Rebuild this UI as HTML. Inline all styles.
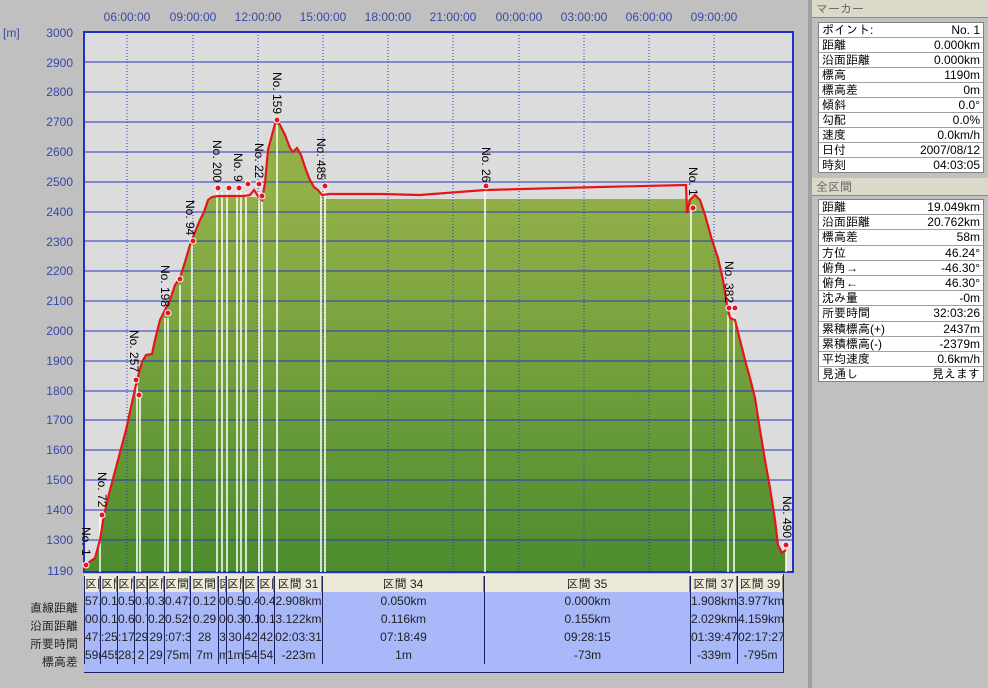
<!DOCTYPE html>
<html><head><meta charset="utf-8"><style>
body{margin:0;width:988px;height:688px;background:#c0c0c0;overflow:hidden;position:relative;font-family:"Liberation Sans","IPAGothic","Noto Sans CJK JP",sans-serif;}
.a{position:absolute}
.cell{position:absolute;overflow:hidden;white-space:nowrap;text-align:center;font-size:12px;color:#222;box-sizing:border-box;border-left:1px solid #1a2060;}
.lbl{position:absolute;left:0;width:78px;text-align:right;font-size:12px;color:#222}
.pt{position:absolute;left:818px;width:164px;border:1px solid #808080;background:#fff;font-size:12px}
.pt div{height:14px;line-height:14px;border-bottom:1px solid #a0a0a0;padding:0 3px;display:flex;justify-content:space-between}
.pt.b div{height:14.2px;line-height:14px}
.hd{position:absolute;left:812px;width:176px;height:18px;background:#ddd9c8;border-bottom:1px solid #888;color:#666;font-size:12px;line-height:18px;padding-left:4px;box-sizing:border-box}
</style></head><body>
<svg class="a" style="left:0;top:0" width="810" height="580">
<defs><linearGradient id="g" x1="0" y1="190" x2="0" y2="572" gradientUnits="userSpaceOnUse"><stop offset="0" stop-color="#93b048"/><stop offset="1" stop-color="#4d8c2e"/></linearGradient></defs>
<g font-size="12" fill="#3848a8" font-family="Liberation Sans,sans-serif">
<text x="127" y="21" text-anchor="middle">06:00:00</text><text x="193" y="21" text-anchor="middle">09:00:00</text><text x="258" y="21" text-anchor="middle">12:00:00</text><text x="323" y="21" text-anchor="middle">15:00:00</text><text x="388" y="21" text-anchor="middle">18:00:00</text><text x="453" y="21" text-anchor="middle">21:00:00</text><text x="519" y="21" text-anchor="middle">00:00:00</text><text x="584" y="21" text-anchor="middle">03:00:00</text><text x="649" y="21" text-anchor="middle">06:00:00</text><text x="714" y="21" text-anchor="middle">09:00:00</text>
<text x="3" y="37">[m]</text>
<g text-anchor="end"><text x="73" y="37">3000</text><text x="73" y="67">2900</text><text x="73" y="96">2800</text><text x="73" y="126">2700</text><text x="73" y="156">2600</text><text x="73" y="186">2500</text><text x="73" y="216">2400</text><text x="73" y="246">2300</text><text x="73" y="275">2200</text><text x="73" y="305">2100</text><text x="73" y="335">2000</text><text x="73" y="365">1900</text><text x="73" y="395">1800</text><text x="73" y="424">1700</text><text x="73" y="454">1600</text><text x="73" y="484">1500</text><text x="73" y="514">1400</text><text x="73" y="544">1300</text><text x="73" y="575">1190</text></g></g>
<rect x="84" y="32" width="709" height="540" fill="#dcdcdc"/>
<polygon fill="url(#g)" points="84,572 84,570 88,563 95,558 100,540 104,515 110,490 118,460 126,430 133,398 137,380 142,362 146,355 152,354 155,340 160,320 165,310 170,300 175,285 180,278 185,262 190,245 195,232 200,220 204,212 208,200 212,197 254,197 258,198 262,200 265,183 268,150 272,135 276,120 280,125 285,135 290,148 293,152 297,148 301,155 306,170 310,180 314,187 318,190 322,195 325,199 686,199 690,200 695,195 700,200 705,215 712,240 718,258 723,280 727,305 730,318 735,320 740,340 745,360 750,378 755,398 760,430 765,460 770,488 775,520 778,545 782,553 786,550 786,572"/>
<g stroke="#2838c0" stroke-width="1">
<line x1="84" x2="793" y1="62" y2="62"/><line x1="84" x2="793" y1="92" y2="92"/><line x1="84" x2="793" y1="122" y2="122"/><line x1="84" x2="793" y1="152" y2="152"/><line x1="84" x2="793" y1="182" y2="182"/><line x1="84" x2="793" y1="212" y2="212"/><line x1="84" x2="793" y1="241" y2="241"/><line x1="84" x2="793" y1="271" y2="271"/><line x1="84" x2="793" y1="301" y2="301"/><line x1="84" x2="793" y1="331" y2="331"/><line x1="84" x2="793" y1="361" y2="361"/><line x1="84" x2="793" y1="391" y2="391"/><line x1="84" x2="793" y1="420" y2="420"/><line x1="84" x2="793" y1="450" y2="450"/><line x1="84" x2="793" y1="480" y2="480"/><line x1="84" x2="793" y1="510" y2="510"/><line x1="84" x2="793" y1="540" y2="540"/>
</g>
<g stroke="#2838c0" stroke-dasharray="1,2"><line x1="127" x2="127" y1="32" y2="572"/><line x1="193" x2="193" y1="32" y2="572"/><line x1="258" x2="258" y1="32" y2="572"/><line x1="323" x2="323" y1="32" y2="572"/><line x1="388" x2="388" y1="32" y2="572"/><line x1="453" x2="453" y1="32" y2="572"/><line x1="519" x2="519" y1="32" y2="572"/><line x1="584" x2="584" y1="32" y2="572"/><line x1="649" x2="649" y1="32" y2="572"/><line x1="714" x2="714" y1="32" y2="572"/></g>
<rect x="84" y="32" width="709" height="540" fill="none" stroke="#2030c8" stroke-width="2"/>
<g stroke="#fff" stroke-width="1.5">
<line x1="100" x2="100" y1="518" y2="572"/><line x1="137" x2="137" y1="385" y2="572"/><line x1="140" x2="140" y1="398" y2="572"/><line x1="165" x2="165" y1="318" y2="572"/><line x1="168" x2="168" y1="318" y2="572"/><line x1="180" x2="180" y1="285" y2="572"/><line x1="192" x2="192" y1="245" y2="572"/><line x1="217" x2="217" y1="192" y2="572"/><line x1="222" x2="222" y1="192" y2="572"/><line x1="227" x2="227" y1="192" y2="572"/><line x1="237" x2="237" y1="192" y2="572"/><line x1="241" x2="241" y1="192" y2="572"/><line x1="246" x2="246" y1="192" y2="572"/><line x1="259" x2="259" y1="192" y2="572"/><line x1="262" x2="262" y1="200" y2="572"/><line x1="277" x2="277" y1="125" y2="572"/><line x1="321" x2="321" y1="190" y2="572"/><line x1="325" x2="325" y1="190" y2="572"/><line x1="485" x2="485" y1="190" y2="572"/><line x1="691" x2="691" y1="210" y2="572"/><line x1="728" x2="728" y1="315" y2="572"/><line x1="734" x2="734" y1="315" y2="572"/><line x1="786" x2="786" y1="550" y2="572"/></g>
<polyline fill="none" stroke="#e8141c" stroke-width="2.2" points="84,570 88,563 95,558 100,540 104,515 110,490 118,460 126,430 133,398 137,380 142,362 146,355 152,354 155,340 160,320 165,310 170,300 175,285 180,278 185,262 190,245 195,232 200,220 204,212 208,200 212,197 218,196 232,196 244,196 250,195 254,190 258,196 262,200 265,183 268,150 272,135 276,120 280,125 285,135 290,148 293,152 297,148 301,155 306,170 310,180 314,187 318,190 322,195 330,194 380,194 420,195 485,190 600,187 686,185 687,213 690,200 695,195 700,200 705,215 712,240 718,258 723,280 727,305 730,318 735,320 740,340 745,360 750,378 755,398 760,430 765,460 770,488 775,520 778,545 782,553 786,550"/>
<g fill="#e8141c" stroke="#fff" stroke-width="1">
<circle cx="86" cy="565" r="3"/><circle cx="102" cy="515" r="3"/><circle cx="136" cy="380" r="3"/><circle cx="139" cy="395" r="3"/><circle cx="168" cy="313" r="3"/><circle cx="180" cy="279" r="3"/><circle cx="193" cy="241" r="3"/><circle cx="218" cy="188" r="3"/><circle cx="229" cy="188" r="3"/><circle cx="239" cy="188" r="3"/><circle cx="248" cy="184" r="3"/><circle cx="259" cy="184" r="3"/><circle cx="262" cy="196" r="3"/><circle cx="277" cy="120" r="3"/><circle cx="325" cy="186" r="3"/><circle cx="486" cy="186" r="3"/><circle cx="693" cy="208" r="3"/><circle cx="729" cy="308" r="3"/><circle cx="735" cy="308" r="3"/><circle cx="786" cy="545" r="3"/></g>
<g font-size="12" fill="#000" font-family="Liberation Sans,sans-serif">
<text transform="translate(82,527) rotate(90)">No. 1</text><text transform="translate(98,472) rotate(90)">No. 72</text><text transform="translate(130,330) rotate(90)">No. 257</text><text transform="translate(161,265) rotate(90)">No. 198</text><text transform="translate(186,200) rotate(90)">No. 94</text><text transform="translate(213,140) rotate(90)">No. 200</text><text transform="translate(234,153) rotate(90)">No. 9</text><text transform="translate(255,143) rotate(90)">No. 22</text><text transform="translate(273,72) rotate(90)">No. 159</text><text transform="translate(317,138) rotate(90)">No. 485</text><text transform="translate(482,147) rotate(90)">No. 26</text><text transform="translate(689,167) rotate(90)">No. 1</text><text transform="translate(725,261) rotate(90)">No. 382</text><text transform="translate(783,496) rotate(90)">No. 490</text></g>
</svg>
<div class="lbl" style="top:601px">直線距離</div><div class="lbl" style="top:619px">沿面距離</div><div class="lbl" style="top:637px">所要時間</div><div class="lbl" style="top:655px">標高差</div>
<div class="a" style="left:84px;top:574px;width:700px;height:18px;background:#ece9d8"></div>
<div class="a" style="left:84px;top:592px;width:700px;height:80px;background:#a8b8f8;border-bottom:1px solid #1a2060"></div>
<div class="a" style="left:783px;top:574px;width:1px;height:98px;background:#1a2060"></div>
<div id="t"></div>
<script>
var c=[[84,100,"区間 1","57.104km","00.182km","47:25:51","59m"],[100,117,"区間 2","0.104km","0.182km",":25:51","455m"],[117,134,"区間 3","0.527km","0.615km",":17:12","281m"],[134,147,"区間","0.33","0.72","29","2"],[147,164,"区間","0.32","0.27","29","29"],[164,190,"区間","0.472km","0.529km",":07:32","75m"],[190,218,"区間","0.12","0.29","28","7m"],[218,226,"区","0.1","0.1","3","m"],[226,243,"区間","0.50","0.37","30","1m"],[243,258,"区間","0.49","0.10","42","54"],[258,274,"区間","0.49","0.10","42","54"],[274,322,"区間 31","2.908km","3.122km","02:03:31","-223m"],[322,484,"区間 34","0.050km","0.116km","07:18:49","1m"],[484,690,"区間 35","0.000km","0.155km","09:28:15","-73m"],[690,737,"区間 37","1.908km","2.029km","01:39:47","-339m"],[737,783,"区間 39","3.977km","4.159km","02:17:27","-795m"]];
var h="";c.forEach(function(r){var w=r[1]-r[0];for(var i=0;i<5;i++){h+='<div class="cell" style="left:'+r[0]+'px;width:'+w+'px;top:'+(i==0?576:592+(i-1)*18)+'px;height:'+(i==0?16:18)+'px;line-height:'+(i==0?16:18)+'px'+(i==0?';border-right:1px solid #888':'')+'">'+r[2+i]+'</div>';}});
document.getElementById("t").innerHTML=h;
</script>
<div class="a" style="left:808px;top:0;width:4px;height:688px;background:#a0a0a0"></div>
<div class="hd" style="top:0">マーカー</div>
<div class="pt" style="top:22px"><div><span>ポイント:</span><span>No. 1</span></div><div><span>距離</span><span>0.000km</span></div><div><span>沿面距離</span><span>0.000km</span></div><div><span>標高</span><span>1190m</span></div><div><span>標高差</span><span>0m</span></div><div><span>傾斜</span><span>0.0°</span></div><div><span>勾配</span><span>0.0%</span></div><div><span>速度</span><span>0.0km/h</span></div><div><span>日付</span><span>2007/08/12</span></div><div style="border:0"><span>時刻</span><span>04:03:05</span></div></div>
<div class="hd" style="top:178px">全区間</div>
<div class="pt b" style="top:199px"><div><span>距離</span><span>19.049km</span></div><div><span>沿面距離</span><span>20.762km</span></div><div><span>標高差</span><span>58m</span></div><div><span>方位</span><span>46.24°</span></div><div><span>俯角→</span><span>-46.30°</span></div><div><span>俯角←</span><span>46.30°</span></div><div><span>沈み量</span><span>-0m</span></div><div><span>所要時間</span><span>32:03:26</span></div><div><span>累積標高(+)</span><span>2437m</span></div><div><span>累積標高(-)</span><span>-2379m</span></div><div><span>平均速度</span><span>0.6km/h</span></div><div style="border:0"><span>見通し</span><span>見えます</span></div></div>
</body></html>
